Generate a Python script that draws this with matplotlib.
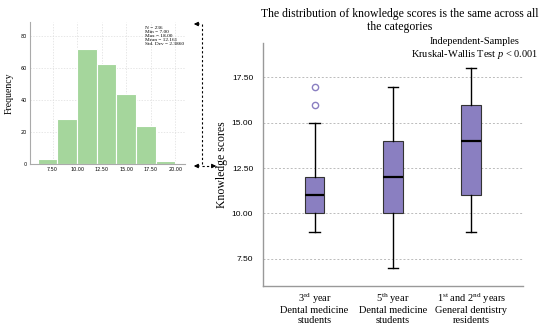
import matplotlib
matplotlib.use("Agg")
import matplotlib.pyplot as plt

plt.rcParams["mathtext.fontset"] = "custom"
plt.rcParams["mathtext.rm"] = "Liberation Serif"
plt.rcParams["mathtext.it"] = "Liberation Serif:italic"

# Histogram of all knowledge scores
bin_edges = [6, 8, 10, 12, 14, 16, 18, 20]
bin_counts = [3, 28, 72, 63, 44, 24, 2]
hist_xticks = [7.5, 10.0, 12.5, 15.0, 17.5, 20.0]
hist_yticks = [0, 20, 40, 60, 80]
stats_text = "N = 236\nMin = 7.00\nMax = 18.00\nMean = 12.161\nStd. Dev = 2.3860"

# Boxplot by group
groups = ["3$^{\\mathrm{rd}}$ year\nDental medicine\nstudents",
          "5$^{\\mathrm{th}}$ year\nDental medicine\nstudents",
          "1$^{\\mathrm{st}}$ and 2$^{\\mathrm{nd}}$ years\nGeneral dentistry\nresidents"]
whislo = [9, 7, 9]
q1 = [10, 10, 11]
med = [11, 12, 14]
q3 = [12, 14, 16]
whishi = [15, 17, 18]
fliers = [[16, 17], [], []]
box_yticks = [7.5, 10.0, 12.5, 15.0, 17.5]

fig = plt.figure(figsize=(5.5, 3.34), dpi=100)

# ---- histogram ----
ax1 = fig.add_axes([0.0545, 0.509, 0.282, 0.425])
widths = [b - a for a, b in zip(bin_edges[:-1], bin_edges[1:])]
ax1.bar(bin_edges[:-1], bin_counts, width=widths, align="edge",
        color="#a5d69c", edgecolor="white", linewidth=0.8, zorder=2)
ax1.set_xlim(5.2, 21)
ax1.set_ylim(0, 89)
ax1.set_xticks(hist_xticks)
ax1.set_xticklabels(["%.2f" % t for t in hist_xticks])
ax1.set_yticks(hist_yticks)
ax1.tick_params(labelsize=3.5, length=0, pad=2)
ax1.grid(True, linestyle=(0, (2, 2)), color="#dddddd", linewidth=0.5, zorder=0)
for s in ["top", "right"]:
    ax1.spines[s].set_visible(False)
for s in ["left", "bottom"]:
    ax1.spines[s].set_color("#aaaaaa")
    ax1.spines[s].set_linewidth(0.8)
ax1.set_ylabel("Frequency", family="Liberation Serif", fontsize=7, labelpad=5)
ax1.text(0.74, 0.97, stats_text, transform=ax1.transAxes, ha="left", va="top",
         fontsize=3.8, family="Liberation Serif", linespacing=1.0)

# ---- dashed arrows linking the panels ----
dash = dict(color="black", linewidth=0.8, linestyle=(0, (2, 2)))
fig.add_artist(plt.Line2D([202 / 550, 202 / 550], [1 - 24 / 334, 1 - 166 / 334],
                          transform=fig.transFigure, **dash))
fig.add_artist(plt.Line2D([202 / 550, 216 / 550], [1 - 166 / 334, 1 - 166 / 334],
                          transform=fig.transFigure, **dash))
arrow = dict(arrowstyle="-|>", color="black", lw=0.8, mutation_scale=6)
fig.add_artist(matplotlib.patches.FancyArrowPatch(
    (202 / 550, 1 - 24 / 334), (191 / 550, 1 - 24 / 334),
    transform=fig.transFigure, **arrow))
fig.add_artist(matplotlib.patches.FancyArrowPatch(
    (202 / 550, 1 - 166 / 334), (191 / 550, 1 - 166 / 334),
    transform=fig.transFigure, **arrow))
fig.add_artist(matplotlib.patches.FancyArrowPatch(
    (210 / 550, 1 - 166 / 334), (219 / 550, 1 - 166 / 334),
    transform=fig.transFigure, **arrow))

# ---- boxplot ----
ax2 = fig.add_axes([0.478, 0.1437, 0.4727, 0.7275])
stats = []
for i in range(len(groups)):
    stats.append(dict(whislo=whislo[i], q1=q1[i], med=med[i], q3=q3[i],
                      whishi=whishi[i], fliers=fliers[i]))
ax2.bxp(stats, positions=[1, 2, 3], widths=0.25, patch_artist=True,
        boxprops=dict(facecolor="#8a7fc1", edgecolor="#333333", linewidth=0.8),
        medianprops=dict(color="black", linewidth=1.6),
        whiskerprops=dict(color="black", linewidth=1.0),
        capprops=dict(color="black", linewidth=1.0),
        capwidths=0.13,
        flierprops=dict(marker="o", markerfacecolor="white",
                        markeredgecolor="#8a7fc1", markersize=4.5,
                        markeredgewidth=1.0),
        zorder=3)
ax2.set_xlim(0.34, 3.66)
ax2.set_ylim(6.0, 19.4)
ax2.set_yticks(box_yticks)
ax2.set_yticklabels(["%.2f" % t for t in box_yticks], family="Liberation Sans")
ax2.set_xticks([1, 2, 3])
ax2.set_xticklabels(groups, family="Liberation Serif", fontsize=7.5, linespacing=1.05)
ax2.tick_params(axis="y", labelsize=6, length=0, pad=7)
ax2.tick_params(axis="x", length=0, pad=4)
ax2.grid(axis="y", linestyle=(0, (2, 2)), color="#bbbbbb", linewidth=0.7, zorder=0)
for s in ["top", "right"]:
    ax2.spines[s].set_visible(False)
for s in ["left", "bottom"]:
    ax2.spines[s].set_color("#999999")
    ax2.spines[s].set_linewidth(1.0)
ax2.set_ylabel("Knowledge scores", family="Liberation Serif", fontsize=8.5, labelpad=3)
ax2.text(0.815, 0.925, "Independent-Samples\nKruskal-Wallis Test $p$ < 0.001",
         transform=ax2.transAxes, ha="center", va="bottom", fontsize=7.5,
         family="Liberation Serif")

fig.text(400 / 550, 1 - 8 / 334,
         "The distribution of knowledge scores is the same across all\nthe categories",
         ha="center", va="top", fontsize=8.5, family="Liberation Serif",
         linespacing=1.1)

fig.savefig("out.png", dpi=100)
